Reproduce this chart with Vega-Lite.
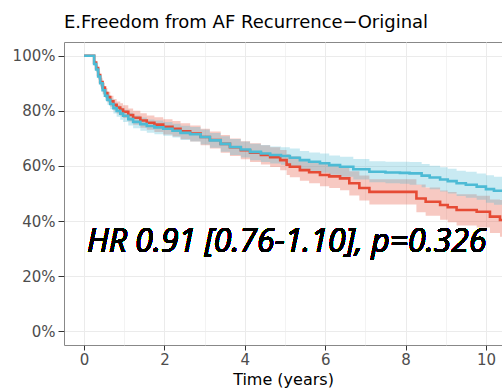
{
  "$schema": "https://vega.github.io/schema/vega-lite/v6.json",
  "width": 438,
  "height": 303,
  "autosize": {"type": "none"},
  "padding": {"left": 64, "top": 42, "right": 0, "bottom": 47},
  "background": "white",
  "title": {"text": "E.Freedom from AF Recurrence−Original", "anchor": "start", "frame": "group", "font": "DejaVu Sans", "fontSize": 18, "fontWeight": "normal", "color": "black", "offset": 10},
  "config": {
    "view": {"stroke": "#888888", "strokeWidth": 1},
    "axis": {"labelFont": "DejaVu Sans", "labelFontSize": 15, "labelColor": "#4D4D4D", "tickColor": "#333333", "tickSize": 6, "tickWidth": 1, "domain": false, "gridColor": "#EBEBEB", "titleFont": "DejaVu Sans", "titleFontSize": 16, "titleFontWeight": "normal", "titleColor": "black", "labelPadding": 3}
  },
  "data": {"values": [
    {"group": "B", "time": 0, "surv": 1, "lower": 1, "upper": 1},
    {"group": "B", "time": 0.22, "surv": 1, "lower": 1, "upper": 1},
    {"group": "B", "time": 0.25, "surv": 0.97, "lower": 0.962, "upper": 0.978},
    {"group": "B", "time": 0.30, "surv": 0.95, "lower": 0.940, "upper": 0.960},
    {"group": "B", "time": 0.35, "surv": 0.925, "lower": 0.913, "upper": 0.937},
    {"group": "B", "time": 0.40, "surv": 0.90, "lower": 0.886, "upper": 0.914},
    {"group": "B", "time": 0.46, "surv": 0.875, "lower": 0.859, "upper": 0.891},
    {"group": "B", "time": 0.52, "surv": 0.855, "lower": 0.838, "upper": 0.872},
    {"group": "B", "time": 0.58, "surv": 0.84, "lower": 0.822, "upper": 0.858},
    {"group": "B", "time": 0.65, "surv": 0.825, "lower": 0.806, "upper": 0.844},
    {"group": "B", "time": 0.73, "surv": 0.81, "lower": 0.790, "upper": 0.830},
    {"group": "B", "time": 0.81, "surv": 0.80, "lower": 0.779, "upper": 0.821},
    {"group": "B", "time": 0.90, "surv": 0.79, "lower": 0.768, "upper": 0.812},
    {"group": "B", "time": 0.97, "surv": 0.782, "lower": 0.760, "upper": 0.804},
    {"group": "B", "time": 1.10, "surv": 0.77, "lower": 0.747, "upper": 0.793},
    {"group": "B", "time": 1.22, "surv": 0.76, "lower": 0.737, "upper": 0.783},
    {"group": "B", "time": 1.40, "surv": 0.752, "lower": 0.728, "upper": 0.776},
    {"group": "B", "time": 1.56, "surv": 0.745, "lower": 0.721, "upper": 0.769},
    {"group": "B", "time": 1.75, "surv": 0.74, "lower": 0.715, "upper": 0.765},
    {"group": "B", "time": 1.97, "surv": 0.735, "lower": 0.710, "upper": 0.760},
    {"group": "B", "time": 2.20, "surv": 0.728, "lower": 0.703, "upper": 0.753},
    {"group": "B", "time": 2.40, "surv": 0.72, "lower": 0.694, "upper": 0.746},
    {"group": "B", "time": 2.64, "surv": 0.715, "lower": 0.689, "upper": 0.741},
    {"group": "B", "time": 2.90, "surv": 0.705, "lower": 0.678, "upper": 0.732},
    {"group": "B", "time": 3.13, "surv": 0.693, "lower": 0.666, "upper": 0.720},
    {"group": "B", "time": 3.40, "surv": 0.68, "lower": 0.652, "upper": 0.708},
    {"group": "B", "time": 3.63, "surv": 0.669, "lower": 0.640, "upper": 0.698},
    {"group": "B", "time": 3.90, "surv": 0.66, "lower": 0.631, "upper": 0.689},
    {"group": "B", "time": 4.13, "surv": 0.651, "lower": 0.621, "upper": 0.681},
    {"group": "B", "time": 4.40, "surv": 0.645, "lower": 0.614, "upper": 0.676},
    {"group": "B", "time": 4.63, "surv": 0.64, "lower": 0.609, "upper": 0.671},
    {"group": "B", "time": 4.90, "surv": 0.636, "lower": 0.604, "upper": 0.668},
    {"group": "B", "time": 5.12, "surv": 0.63, "lower": 0.597, "upper": 0.663},
    {"group": "B", "time": 5.37, "surv": 0.621, "lower": 0.588, "upper": 0.654},
    {"group": "B", "time": 5.60, "surv": 0.615, "lower": 0.581, "upper": 0.649},
    {"group": "B", "time": 5.87, "surv": 0.61, "lower": 0.575, "upper": 0.645},
    {"group": "B", "time": 6.10, "surv": 0.603, "lower": 0.568, "upper": 0.638},
    {"group": "B", "time": 6.37, "surv": 0.597, "lower": 0.561, "upper": 0.633},
    {"group": "B", "time": 6.70, "surv": 0.588, "lower": 0.551, "upper": 0.625},
    {"group": "B", "time": 7.10, "surv": 0.579, "lower": 0.541, "upper": 0.617},
    {"group": "B", "time": 7.50, "surv": 0.576, "lower": 0.537, "upper": 0.615},
    {"group": "B", "time": 7.86, "surv": 0.575, "lower": 0.535, "upper": 0.615},
    {"group": "B", "time": 8.10, "surv": 0.573, "lower": 0.532, "upper": 0.614},
    {"group": "B", "time": 8.40, "surv": 0.565, "lower": 0.523, "upper": 0.607},
    {"group": "B", "time": 8.60, "surv": 0.558, "lower": 0.515, "upper": 0.601},
    {"group": "B", "time": 8.86, "surv": 0.551, "lower": 0.507, "upper": 0.595},
    {"group": "B", "time": 9.05, "surv": 0.545, "lower": 0.500, "upper": 0.590},
    {"group": "B", "time": 9.27, "surv": 0.537, "lower": 0.491, "upper": 0.583},
    {"group": "B", "time": 9.50, "surv": 0.532, "lower": 0.485, "upper": 0.579},
    {"group": "B", "time": 9.77, "surv": 0.525, "lower": 0.477, "upper": 0.573},
    {"group": "B", "time": 10.00, "surv": 0.516, "lower": 0.466, "upper": 0.566},
    {"group": "B", "time": 10.20, "surv": 0.51, "lower": 0.459, "upper": 0.561},
    {"group": "B", "time": 10.40, "surv": 0.506, "lower": 0.454, "upper": 0.558},
    {"group": "A", "time": 0, "surv": 1, "lower": 1, "upper": 1},
    {"group": "A", "time": 0.22, "surv": 1, "lower": 1, "upper": 1},
    {"group": "A", "time": 0.25, "surv": 0.975, "lower": 0.967, "upper": 0.983},
    {"group": "A", "time": 0.30, "surv": 0.955, "lower": 0.944, "upper": 0.966},
    {"group": "A", "time": 0.35, "surv": 0.93, "lower": 0.917, "upper": 0.943},
    {"group": "A", "time": 0.40, "surv": 0.905, "lower": 0.890, "upper": 0.920},
    {"group": "A", "time": 0.46, "surv": 0.885, "lower": 0.868, "upper": 0.902},
    {"group": "A", "time": 0.52, "surv": 0.865, "lower": 0.847, "upper": 0.883},
    {"group": "A", "time": 0.58, "surv": 0.85, "lower": 0.831, "upper": 0.869},
    {"group": "A", "time": 0.65, "surv": 0.835, "lower": 0.815, "upper": 0.855},
    {"group": "A", "time": 0.73, "surv": 0.822, "lower": 0.801, "upper": 0.843},
    {"group": "A", "time": 0.81, "surv": 0.812, "lower": 0.790, "upper": 0.834},
    {"group": "A", "time": 0.90, "surv": 0.805, "lower": 0.782, "upper": 0.828},
    {"group": "A", "time": 0.97, "surv": 0.797, "lower": 0.774, "upper": 0.820},
    {"group": "A", "time": 1.10, "surv": 0.785, "lower": 0.761, "upper": 0.809},
    {"group": "A", "time": 1.22, "surv": 0.775, "lower": 0.750, "upper": 0.800},
    {"group": "A", "time": 1.40, "surv": 0.765, "lower": 0.739, "upper": 0.791},
    {"group": "A", "time": 1.56, "surv": 0.757, "lower": 0.731, "upper": 0.783},
    {"group": "A", "time": 1.75, "surv": 0.75, "lower": 0.723, "upper": 0.777},
    {"group": "A", "time": 1.97, "surv": 0.742, "lower": 0.714, "upper": 0.770},
    {"group": "A", "time": 2.20, "surv": 0.735, "lower": 0.707, "upper": 0.763},
    {"group": "A", "time": 2.40, "surv": 0.726, "lower": 0.697, "upper": 0.755},
    {"group": "A", "time": 2.64, "surv": 0.718, "lower": 0.689, "upper": 0.747},
    {"group": "A", "time": 2.90, "surv": 0.705, "lower": 0.675, "upper": 0.735},
    {"group": "A", "time": 3.13, "surv": 0.694, "lower": 0.663, "upper": 0.725},
    {"group": "A", "time": 3.40, "surv": 0.68, "lower": 0.648, "upper": 0.712},
    {"group": "A", "time": 3.63, "surv": 0.668, "lower": 0.636, "upper": 0.700},
    {"group": "A", "time": 3.90, "surv": 0.657, "lower": 0.624, "upper": 0.690},
    {"group": "A", "time": 4.13, "surv": 0.648, "lower": 0.614, "upper": 0.682},
    {"group": "A", "time": 4.40, "surv": 0.64, "lower": 0.605, "upper": 0.675},
    {"group": "A", "time": 4.63, "surv": 0.632, "lower": 0.596, "upper": 0.668},
    {"group": "A", "time": 4.88, "surv": 0.621, "lower": 0.584, "upper": 0.658},
    {"group": "A", "time": 5.04, "surv": 0.605, "lower": 0.567, "upper": 0.643},
    {"group": "A", "time": 5.12, "surv": 0.597, "lower": 0.559, "upper": 0.635},
    {"group": "A", "time": 5.37, "surv": 0.585, "lower": 0.546, "upper": 0.624},
    {"group": "A", "time": 5.60, "surv": 0.577, "lower": 0.537, "upper": 0.617},
    {"group": "A", "time": 5.87, "surv": 0.567, "lower": 0.526, "upper": 0.608},
    {"group": "A", "time": 6.10, "surv": 0.562, "lower": 0.520, "upper": 0.604},
    {"group": "A", "time": 6.37, "surv": 0.555, "lower": 0.512, "upper": 0.598},
    {"group": "A", "time": 6.60, "surv": 0.537, "lower": 0.493, "upper": 0.581},
    {"group": "A", "time": 6.85, "surv": 0.52, "lower": 0.475, "upper": 0.565},
    {"group": "A", "time": 7.10, "surv": 0.506, "lower": 0.460, "upper": 0.552},
    {"group": "A", "time": 8.27, "surv": 0.482, "lower": 0.432, "upper": 0.533},
    {"group": "A", "time": 8.50, "surv": 0.47, "lower": 0.419, "upper": 0.522},
    {"group": "A", "time": 8.86, "surv": 0.458, "lower": 0.405, "upper": 0.511},
    {"group": "A", "time": 9.05, "surv": 0.45, "lower": 0.396, "upper": 0.505},
    {"group": "A", "time": 9.27, "surv": 0.44, "lower": 0.384, "upper": 0.497},
    {"group": "A", "time": 9.77, "surv": 0.434, "lower": 0.377, "upper": 0.492},
    {"group": "A", "time": 10.10, "surv": 0.416, "lower": 0.357, "upper": 0.478},
    {"group": "A", "time": 10.35, "surv": 0.404, "lower": 0.343, "upper": 0.476},
    {"group": "A", "time": 10.40, "surv": 0.404, "lower": 0.343, "upper": 0.476}
  ]},
  "encoding": {
    "x": {
      "field": "time", "type": "quantitative",
      "scale": {"domain": [-0.5, 10.4], "nice": false, "zero": false},
      "axis": {
        "title": "Time (years)",
        "values": [0, 1, 2, 3, 4, 5, 6, 7, 8, 9, 10],
        "labelExpr": "datum.value % 2 === 0 ? datum.label : ''",
        "tickOpacity": {"condition": {"test": "datum.value % 2 === 0", "value": 1}, "value": 0},
        "gridWidth": {"condition": {"test": "datum.value % 2 === 0", "value": 1}, "value": 0.6},
        "tickSize": 5,
        "labelPadding": 2,
        "titlePadding": 4
      }
    }
  },
  "layer": [
    {
      "transform": [{"filter": "datum.group === 'A'"}],
      "mark": {"type": "area", "interpolate": "step-after", "color": "#E64B35", "opacity": 0.3, "clip": true},
      "encoding": {
        "y": {"field": "lower", "type": "quantitative", "scale": {"domain": [-0.05, 1.05], "nice": false, "zero": false},
          "axis": {"title": null, "values": [0, 0.1, 0.2, 0.3, 0.4, 0.5, 0.6, 0.7, 0.8, 0.9, 1], "format": ".0%",
            "labelExpr": "round(datum.value*10) % 2 === 0 ? datum.label : ''",
            "tickOpacity": {"condition": {"test": "round(datum.value*10) % 2 === 0", "value": 1}, "value": 0},
            "gridWidth": {"condition": {"test": "round(datum.value*10) % 2 === 0", "value": 1}, "value": 0.6}}},
        "y2": {"field": "upper"}
      }
    },
    {
      "transform": [{"filter": "datum.group === 'B'"}],
      "mark": {"type": "area", "interpolate": "step-after", "color": "#4DBBD5", "opacity": 0.3, "clip": true},
      "encoding": {
        "y": {"field": "lower", "type": "quantitative"},
        "y2": {"field": "upper"}
      }
    },
    {
      "transform": [{"filter": "datum.group === 'A'"}],
      "mark": {"type": "line", "interpolate": "step-after", "color": "#E64B35", "strokeWidth": 2.6, "clip": true},
      "encoding": {"y": {"field": "surv", "type": "quantitative"}}
    },
    {
      "transform": [{"filter": "datum.group === 'B'"}],
      "mark": {"type": "line", "interpolate": "step-after", "color": "#4DBBD5", "strokeWidth": 2.6, "clip": true},
      "encoding": {"y": {"field": "surv", "type": "quantitative"}}
    },
    {
      "mark": {"type": "text", "font": "Open Sans", "fontStyle": "italic", "fontSize": 32, "align": "left", "baseline": "alphabetic", "color": "black"},
      "encoding": {
        "x": {"datum": 0.07, "type": "quantitative"},
        "y": {"datum": 0.289, "type": "quantitative"},
        "text": {"value": "HR 0.91 [0.76-1.10], p=0.326"}
      }
    }
  ]
}
